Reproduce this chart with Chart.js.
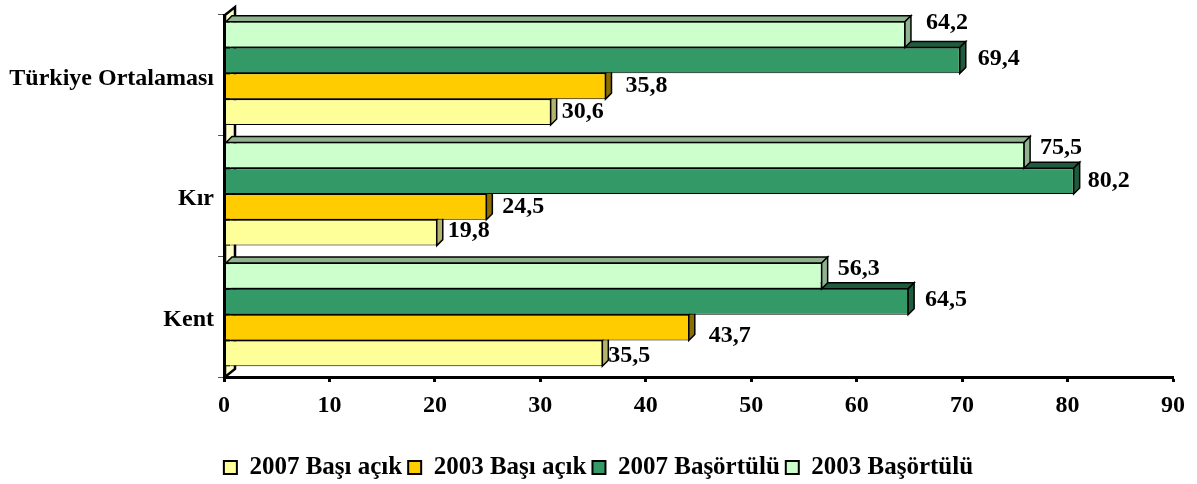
<!DOCTYPE html>
<html>
<head>
<meta charset="utf-8">
<style>
  html, body { margin: 0; padding: 0; background: #fff; }
  #chart { display: block; }
</style>
<script src="https://cdn.jsdelivr.net/npm/chart.js@4/dist/chart.umd.min.js"></script>
</head>
<body>
<canvas id="chart" width="1197" height="484"></canvas>
<script>
const KATEGORILER   = ['Türkiye Ortalaması', 'Kır', 'Kent'];
const BASORTULU2003 = [64.2, 75.5, 56.3];
const BASORTULU2007 = [69.4, 80.2, 64.5];
const BASIACIK2003  = [35.8, 24.5, 43.7];
const BASIACIK2007  = [30.6, 19.8, 35.5];
const X_MAX = 90;

const FONT = 'Liberation Serif';
const DERINLIK = 6;                 // 3D depth of the bars
const KAYMA = { x: 4, y: -2 };      // bars sit a little off the axis, as in the 3D original

// where each value label sits relative to the bar tip [dx, dy]
const ETIKET_KAYMA = [
  [[21, -12], [16, -8], [16, -7]],
  [[18, -2], [14, 0], [17, -2]],
  [[20, 0], [16, 0], [20, 8]],
  [[11, 0], [11, -2], [6, 2]],
];

const SERILER = [
  { label: '2003 Başörtülü', data: BASORTULU2003, renk: '#CCFFCC', yan: '#8FB38F' },
  { label: '2007 Başörtülü', data: BASORTULU2007, renk: '#339966', yan: '#1F5C3D' },
  { label: '2003 Başı açık', data: BASIACIK2003,  renk: '#FFCC00', yan: '#8A6E00' },
  { label: '2007 Başı açık', data: BASIACIK2007,  renk: '#FFFF99', yan: '#B3B36B' },
];

function poly(ctx, pts, fill, stroke, lw) {
  ctx.beginPath();
  pts.forEach((p, i) => i ? ctx.lineTo(p[0], p[1]) : ctx.moveTo(p[0], p[1]));
  ctx.closePath();
  ctx.fillStyle = fill;
  ctx.fill();
  ctx.strokeStyle = stroke;
  ctx.lineWidth = lw;
  ctx.stroke();
}

const uc3d = {
  id: 'uc3d',
  // left wall of the 3D box
  beforeDatasetsDraw(chart) {
    const { ctx, chartArea: a } = chart;
    const x0 = a.left + 1;
    const d = 10;
    poly(ctx, [[x0, a.top], [x0 + d, a.top - 8], [x0 + d, a.bottom - 8], [x0, a.bottom]], '#FFFFCC', '#000', 2.5);
  },
  // top and side faces first, the bar goes over them
  beforeDatasetDraw(chart, args) {
    const { ctx } = chart;
    const seri = SERILER[args.index];
    const x0 = chart.scales.x.getPixelForValue(0) + 2;
    ctx.save();
    args.meta.data.forEach(el => {
      const xt = el.x + KAYMA.x;
      const yT = el.y - el.height / 2 + KAYMA.y;
      const yB = el.y + el.height / 2 + KAYMA.y;
      poly(ctx, [[x0, yT], [x0 + DERINLIK, yT - DERINLIK], [xt + DERINLIK, yT - DERINLIK], [xt, yT]], seri.yan, '#000', 1.5);
      poly(ctx, [[xt, yT], [xt + DERINLIK, yT - DERINLIK], [xt + DERINLIK, yB - DERINLIK], [xt, yB]], seri.yan, '#000', 1.5);
    });
    ctx.restore();
    ctx.save();
    ctx.translate(KAYMA.x, KAYMA.y);
  },
  afterDatasetDraw(chart, args) {
    const { ctx } = chart;
    ctx.restore();
    // close the gap between the axis and the shifted bar
    const seri = SERILER[args.index];
    const x0 = chart.scales.x.getPixelForValue(0) + 1;
    ctx.save();
    args.meta.data.forEach(el => {
      const yT = el.y - el.height / 2 + KAYMA.y;
      ctx.fillStyle = '#000';
      ctx.fillRect(x0, yT, KAYMA.x + 1, el.height);
      ctx.fillStyle = seri.renk;
      ctx.fillRect(x0, yT + 1, KAYMA.x + 2, el.height - 2);
    });
    ctx.restore();
  },
  // value labels, comma as decimal separator
  afterDatasetsDraw(chart) {
    const { ctx } = chart;
    ctx.save();
    ctx.font = 'bold 24px "' + FONT + '"';
    ctx.fillStyle = '#000';
    ctx.textAlign = 'left';
    ctx.textBaseline = 'middle';
    chart.getSortedVisibleDatasetMetas().forEach(meta => {
      meta.data.forEach((el, i) => {
        const k = ETIKET_KAYMA[meta.index][i];
        const metin = SERILER[meta.index].data[i].toFixed(1).replace('.', ',');
        ctx.fillText(metin, el.x + KAYMA.x + k[0], el.y + KAYMA.y + k[1]);
      });
    });
    ctx.restore();
  }
};

new Chart(document.getElementById('chart'), {
  type: 'bar',
  data: {
    labels: KATEGORILER,
    datasets: SERILER.map(s => ({
      label: s.label,
      data: s.data,
      backgroundColor: s.renk,
      borderColor: '#000',
      borderWidth: 1,
      borderSkipped: false,
      categoryPercentage: 0.855,
      barPercentage: 1,
      clip: false,
    })),
  },
  plugins: [uc3d],
  options: {
    indexAxis: 'y',
    responsive: false,
    animation: false,
    devicePixelRatio: 1,
    layout: { padding: { top: 15, right: 0, bottom: -6, left: 0 } },
    plugins: {
      tooltip: { enabled: false },
      legend: {
        position: 'bottom',
        reverse: true,
        labels: {
          color: '#000',
          font: { family: FONT, size: 25, weight: 'bold' },
          boxWidth: 13,
          boxHeight: 13,
          padding: 6,
          generateLabels(chart) {
            const items = Chart.defaults.plugins.legend.labels.generateLabels(chart);
            items.forEach(it => { it.lineWidth = 2; });
            return items;
          },
        },
      },
    },
    scales: {
      x: {
        min: 0,
        max: X_MAX,
        afterFit(s) { s.height = 72; s.paddingRight = 24; },
        ticks: { stepSize: 10, color: '#000', padding: 9, maxRotation: 0, font: { family: FONT, size: 24, weight: 'bold' } },
        grid: { drawOnChartArea: false, color: '#000', tickColor: '#000', tickWidth: 3, tickLength: 5 },
        border: { color: '#000', width: 3, z: 1 },
      },
      y: {
        afterFit(s) { s.width = 224; s.paddingTop = 0; s.paddingBottom = 0; },
        ticks: { color: '#000', padding: 4, labelOffset: 3, font: { family: FONT, size: 24, weight: 'bold' } },
        grid: { drawOnChartArea: false, tickColor: '#555', tickWidth: 1, tickLength: 6 },
        border: { color: '#000', width: 3, z: 1 },
      },
    },
  },
});
</script>
</body>
</html>
